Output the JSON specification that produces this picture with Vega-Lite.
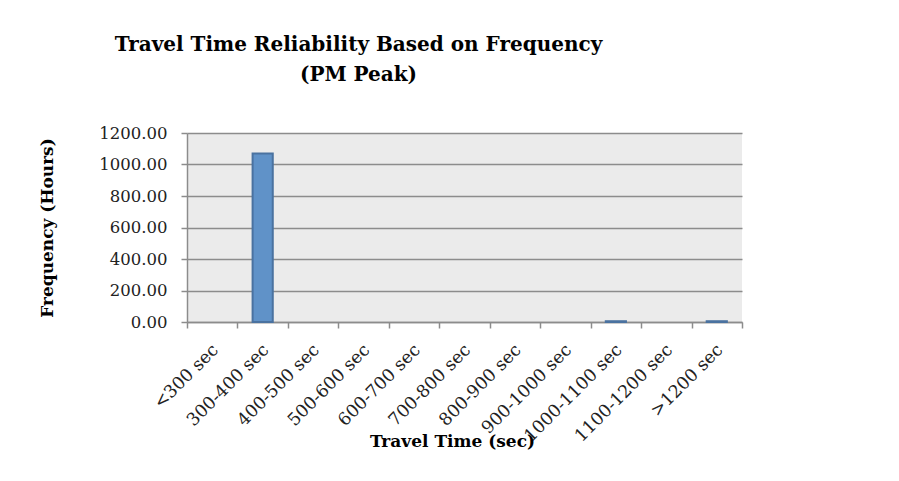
{
  "$schema": "https://vega.github.io/schema/vega-lite/v6.json",
  "width": 555,
  "height": 189,
  "autosize": {"type": "none"},
  "padding": {"left": 187, "top": 133, "right": 157, "bottom": 159},
  "background": "white",
  "title": {
    "text": ["Travel Time Reliability Based on Frequency", "(PM Peak)"],
    "anchor": "middle",
    "dx": -106,
    "font": "DejaVu Serif",
    "fontSize": 20,
    "fontWeight": "bold",
    "color": "black",
    "lineHeight": 30,
    "offset": 40
  },
  "data": {
    "values": [
      {"bin": "<300 sec", "hours": 0},
      {"bin": "300-400 sec", "hours": 1070},
      {"bin": "400-500 sec", "hours": 0},
      {"bin": "500-600 sec", "hours": 0},
      {"bin": "600-700 sec", "hours": 0},
      {"bin": "700-800 sec", "hours": 0},
      {"bin": "800-900 sec", "hours": 0},
      {"bin": "900-1000 sec", "hours": 0},
      {"bin": "1000-1100 sec", "hours": 5},
      {"bin": "1100-1200 sec", "hours": 0},
      {"bin": ">1200 sec", "hours": 5}
    ]
  },
  "mark": {"type": "bar", "fill": "#6092c8", "stroke": "#4a72a0", "strokeWidth": 2, "width": {"band": 0.4}},
  "encoding": {
    "x": {
      "field": "bin",
      "type": "nominal",
      "sort": null,
      "scale": {"paddingInner": 0, "paddingOuter": 0},
      "axis": {
        "title": "Travel Time (sec)",
        "titleFont": "DejaVu Serif",
        "titleFontSize": 17,
        "titleFontWeight": "bold",
        "titleColor": "black",
        "titleX": 265,
        "titleY": 124,
        "titleBaseline": "alphabetic",
        "labelFont": "DejaVu Serif",
        "labelFontSize": 17.5,
        "labelColor": "#222222",
        "labelAngle": -45,
        "labelAlign": "right",
        "labelBaseline": "middle",
        "labelOffset": 3,
        "labelPadding": 19,
        "labelOverlap": false,
        "tickBand": "extent",
        "tickSize": 6,
        "tickColor": "#8c8c8c",
        "tickWidth": 1.5,
        "domainColor": "#8c8c8c",
        "domainWidth": 1.5,
        "grid": false
      }
    },
    "y": {
      "field": "hours",
      "type": "quantitative",
      "scale": {"domain": [0, 1200], "nice": false},
      "axis": {
        "title": "Frequency (Hours)",
        "titleFont": "DejaVu Serif",
        "titleFontSize": 17,
        "titleFontWeight": "bold",
        "titleColor": "black",
        "titlePadding": 42,
        "values": [0, 200, 400, 600, 800, 1000, 1200],
        "format": ".2f",
        "labelFont": "DejaVu Serif",
        "labelFontSize": 16.5,
        "labelColor": "#222222",
        "labelPadding": 14,
        "tickSize": 6,
        "tickColor": "#8c8c8c",
        "tickWidth": 1.5,
        "domainColor": "#8c8c8c",
        "domainWidth": 1.5,
        "grid": true,
        "gridColor": "#8c8c8c",
        "gridWidth": 1.5
      }
    },
    "strokeOpacity": {"condition": {"test": "datum.hours > 0", "value": 1}, "value": 0}
  },
  "config": {
    "view": {"fill": "#ebebeb", "stroke": null}
  }
}
